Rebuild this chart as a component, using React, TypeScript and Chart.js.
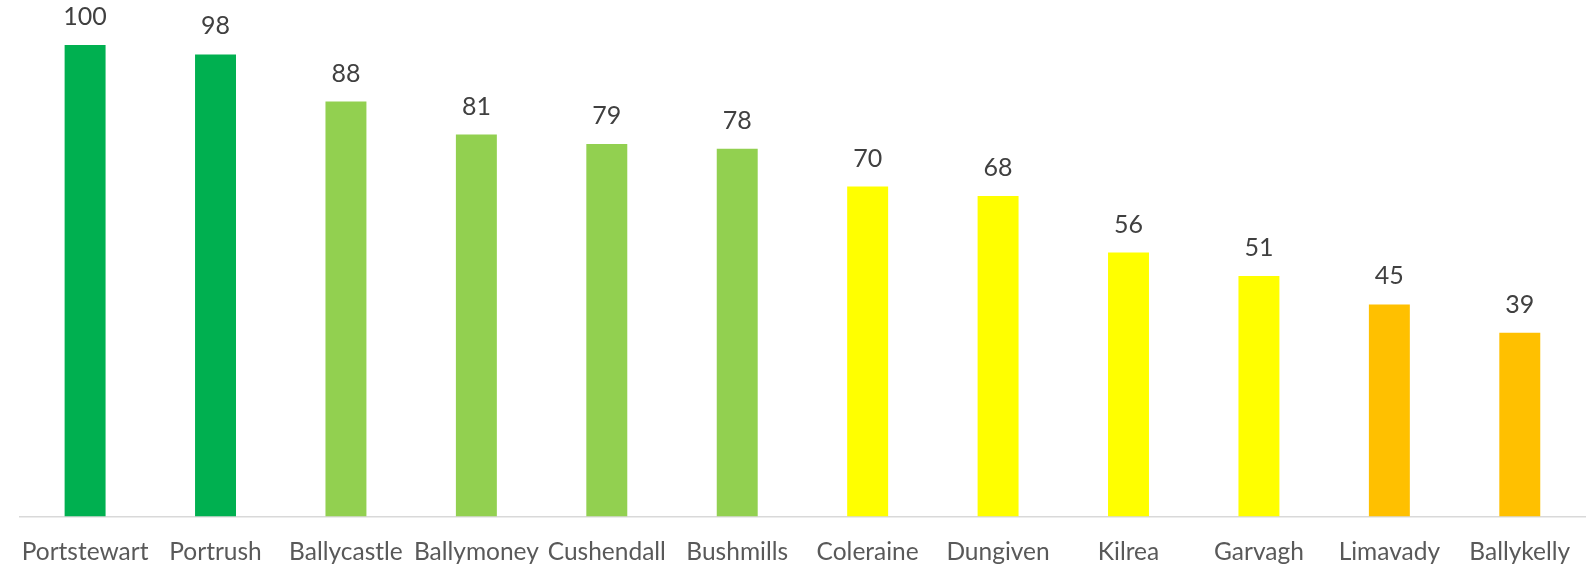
import React, { useEffect, useRef } from "react";
import { Chart, registerables } from "chart.js";

Chart.register(...registerables);

const categories = [
  "Portstewart",
  "Portrush",
  "Ballycastle",
  "Ballymoney",
  "Cushendall",
  "Bushmills",
  "Coleraine",
  "Dungiven",
  "Kilrea",
  "Garvagh",
  "Limavady",
  "Ballykelly",
];

const values = [100, 98, 88, 81, 79, 78, 70, 68, 56, 51, 45, 39];

const barColors = [
  "#00B050",
  "#00B050",
  "#92D050",
  "#92D050",
  "#92D050",
  "#92D050",
  "#FFFF00",
  "#FFFF00",
  "#FFFF00",
  "#FFFF00",
  "#FFC000",
  "#FFC000",
];

const FONT = "Lato, 'Open Sans', sans-serif";

const valueLabels = {
  id: "valueLabels",
  afterDatasetsDraw(chart: any) {
    const ctx = chart.ctx;
    const meta = chart.getDatasetMeta(0);
    ctx.save();
    ctx.font = `25px ${FONT}`;
    ctx.fillStyle = "#404040";
    ctx.textAlign = "center";
    ctx.textBaseline = "middle";
    meta.data.forEach((bar: any, i: number) => {
      ctx.fillText(String(values[i]), bar.x, bar.y - 28);
    });
    ctx.restore();
  },
};

export default function App() {
  const ref = useRef<HTMLCanvasElement | null>(null);

  useEffect(() => {
    document.body.style.margin = "0";
    if (!ref.current) return;
    const chart = new Chart(ref.current, {
      type: "bar",
      data: {
        labels: categories,
        datasets: [
          {
            data: values,
            backgroundColor: barColors,
            borderWidth: 0,
            categoryPercentage: 1,
            barPercentage: 0.314,
          },
        ],
      },
      options: {
        animation: false,
        responsive: false,
        maintainAspectRatio: false,
        layout: { padding: { top: 45, left: 17, right: 8, bottom: 0 } },
        plugins: {
          legend: { display: false },
          tooltip: { enabled: false },
        },
        scales: {
          x: {
            grid: { display: false, drawTicks: false },
            border: { display: true, color: "#D9D9D9", width: 1.5 },
            ticks: {
              color: "#595959",
              font: { family: FONT, size: 24.5 },
              padding: 21,
              maxRotation: 0,
              autoSkip: false,
            },
          },
          y: {
            display: false,
            min: 0,
            max: 100,
          },
        },
      },
      plugins: [valueLabels],
    });
    return () => chart.destroy();
  }, []);

  return (
    <div
      style={{
        position: "absolute",
        left: 0,
        top: 0,
        width: 1593,
        height: 566,
        overflow: "hidden",
        background: "#fff",
      }}
    >
      <canvas ref={ref} width={1593} height={588} style={{ display: "block" }} />
    </div>
  );
}
